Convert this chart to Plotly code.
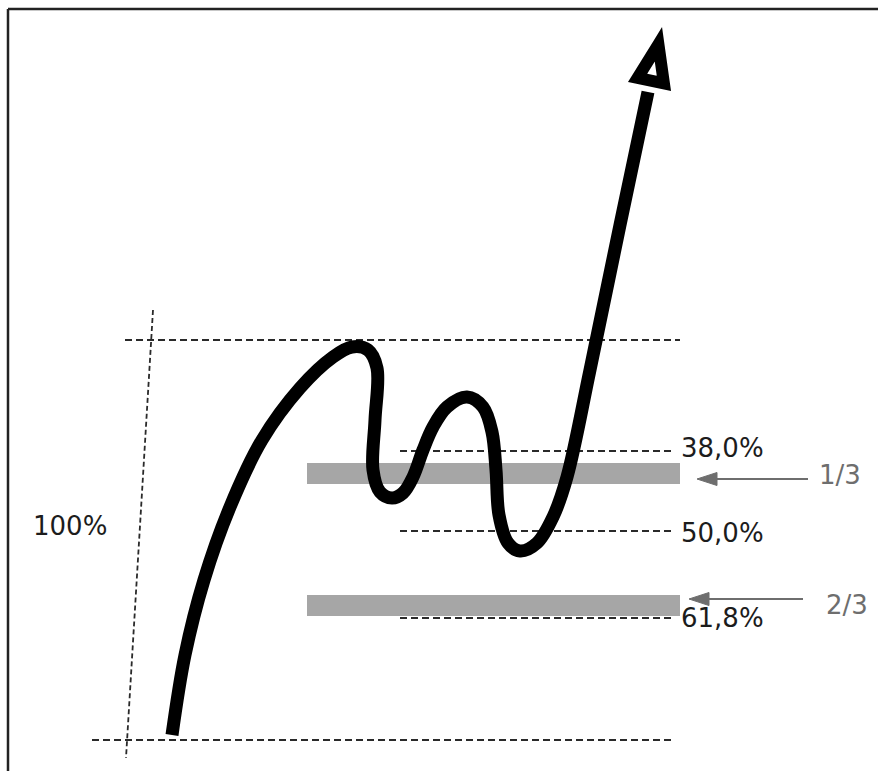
import plotly.graph_objects as go

W, H = 878, 771

# Price path (center line of the thick black stroke)
curve_x = [172, 185, 204, 230, 262, 300, 333, 352, 368, 377, 375, 373, 380, 392, 403, 413, 423,
           433, 447, 467, 483, 492, 496, 499, 508, 520, 537, 553, 567, 590, 620, 648]
curve_y = [735, 655, 580, 507, 440, 388, 357, 347, 350, 368, 420, 470, 492, 498, 493, 477, 450,
           427, 407, 397, 407, 432, 470, 515, 543, 551, 543, 517, 477, 370, 225, 92]

# Arrow head (hollow triangle) vertices
head_x = [658.4, 637.6, 663.9]
head_y = [44.3, 77.9, 83.4]

# Dashed reference levels: (y, x_start, x_end)
level_y = [340, 451, 531, 618, 740]
level_x0 = [125, 400, 400, 400, 92]
level_x1 = [680, 672, 672, 672, 672]

# Diagonal 100% measuring line
diag_x = [153, 126]
diag_y = [310, 758]

# Grey zone bars
bar_y0 = [463, 595]
bar_y1 = [484, 616]
bar_x0 = [307, 307]
bar_x1 = [680, 680]

# Fibonacci labels
fib_labels = ["38,0%", "50,0%", "61,8%"]
fib_label_y = [448, 533, 618]
fib_label_x = [679, 679, 679]

# Fraction labels + arrows
frac_labels = ["1/3", "2/3"]
frac_label_x = [817, 824]
frac_label_y = [475, 605]
frac_arrow_y = [479, 599]
frac_arrow_x0 = [808, 803]
frac_arrow_tip = [697, 689]

range_label = "100%"
range_label_xy = (31, 526)

fig = go.Figure()

shapes = []
# border (left and top)
shapes.append(dict(type="line", x0=8, x1=8, y0=9, y1=H, line=dict(color="#222", width=2.5)))
shapes.append(dict(type="line", x0=8, x1=W, y0=9, y1=9, line=dict(color="#222", width=2.5)))

for y, a, b in zip(level_y, level_x0, level_x1):
    shapes.append(dict(type="line", x0=a, x1=b, y0=y, y1=y, layer="below",
                       line=dict(color="#2a2a2a", width=1.8, dash="7px,4px")))
shapes.append(dict(type="line", x0=diag_x[0], x1=diag_x[1], y0=diag_y[0], y1=diag_y[1], layer="below",
                   line=dict(color="#2a2a2a", width=1.8, dash="5px,3px")))

for y0, y1, x0, x1 in zip(bar_y0, bar_y1, bar_x0, bar_x1):
    shapes.append(dict(type="rect", x0=x0, x1=x1, y0=y0, y1=y1, layer="below",
                       fillcolor="#a6a6a6", line=dict(width=0)))

for y, x0, tip in zip(frac_arrow_y, frac_arrow_x0, frac_arrow_tip):
    shapes.append(dict(type="line", x0=x0, x1=tip + 15, y0=y, y1=y,
                       line=dict(color="#6e6e6e", width=2)))
    shapes.append(dict(type="path",
                       path=f"M {tip},{y} L {tip + 20},{y - 6.5} L {tip + 20},{y + 6.5} Z",
                       fillcolor="#6e6e6e", line=dict(color="#6e6e6e", width=1)))

# hollow arrow head
shapes.append(dict(type="path",
                   path=f"M {head_x[0]},{head_y[0]} L {head_x[1]},{head_y[1]} L {head_x[2]},{head_y[2]} Z",
                   fillcolor="white", line=dict(color="black", width=12)))

fig.add_trace(go.Scatter(x=curve_x, y=curve_y, mode="lines",
                         line=dict(color="black", width=13, shape="spline", smoothing=1.0),
                         hoverinfo="skip", showlegend=False))

annotations = []
font_main = dict(family="DejaVu Sans", size=26, color="#1c1c1c")
for t, x, y in zip(fib_labels, fib_label_x, fib_label_y):
    annotations.append(dict(text=t, x=x, y=y, xref="x", yref="y", showarrow=False,
                            xanchor="left", yanchor="middle", font=font_main))
for t, x, y in zip(frac_labels, frac_label_x, frac_label_y):
    annotations.append(dict(text=t, x=x, y=y, xref="x", yref="y", showarrow=False,
                            xanchor="left", yanchor="middle",
                            font=dict(family="DejaVu Sans", size=26, color="#6e6e6e")))
annotations.append(dict(text=range_label, x=range_label_xy[0], y=range_label_xy[1], xref="x", yref="y",
                        showarrow=False, xanchor="left", yanchor="middle", font=font_main))

fig.update_layout(
    width=W, height=H,
    margin=dict(l=0, r=0, t=0, b=0),
    paper_bgcolor="white", plot_bgcolor="white",
    xaxis=dict(range=[0, W], visible=False, fixedrange=True),
    yaxis=dict(range=[H, 0], visible=False, fixedrange=True),
    shapes=shapes, annotations=annotations, showlegend=False,
)

fig.write_html("out.html", config={"displayModeBar": False},
               post_script="document.body.style.margin='0';document.body.style.overflow='hidden';")
